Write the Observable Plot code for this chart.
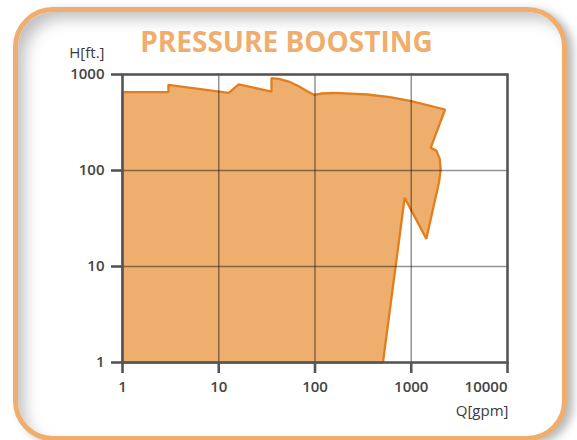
<!DOCTYPE html>
<html>
<head>
<meta charset="utf-8">
<script src="https://cdn.jsdelivr.net/npm/d3@7"></script>
<script src="https://cdn.jsdelivr.net/npm/@observablehq/plot@0.6"></script>
<style>
  html, body { margin: 0; padding: 0; background: #fff; }
  #wrap { position: relative; width: 577px; height: 440px; overflow: hidden; background: #fff; }
  #box {
    position: absolute; left: 13px; top: 7px; width: 554px; height: 434px;
    box-sizing: border-box; border: 5.5px solid #EFAE6D; border-radius: 40px;
    box-shadow: inset 10px 10px 16px -4px rgba(0,0,0,0.26), 6px 3px 8px rgba(0,0,0,0.28);
    background: #fff;
  }
  #chart { position: absolute; left: 0; top: 0; }
</style>
</head>
<body>
<div id="wrap"><div id="box"></div><div id="chart"></div></div>
<script>
// Operating range envelope (Q in gpm, H in ft), traced clockwise
const flowQ = [1, 1, 3, 3, 12.7, 16.1, 35.3, 35.3, 42, 53.4, 67.8, 83, 97.2, 119, 157, 349, 600, 1000, 2243, 1592, 1824, 1975, 2023, 1941, 1683, 1436, 854, 508];
const headH = [1, 654, 654, 781, 645, 787, 665, 915, 902, 845, 755, 670, 614, 634, 645, 619, 580, 527, 432, 172, 161, 132, 102, 75, 39.8, 19.4, 52, 1];
const xTicks = [1, 10, 100, 1000, 10000];
const yTicks = [1, 10, 100, 1000];
const titleText = "PRESSURE BOOSTING";
const yLabel = "H[ft.]";
const xLabel = "Q[gpm]";

const shape = flowQ.map((q, i) => ({q, h: headH[i]}));

const chart = Plot.plot({
  width: 577,
  height: 440,
  marginLeft: 122,
  marginRight: 70,
  marginTop: 74,
  marginBottom: 78,
  style: {background: "transparent", fontFamily: "'Open Sans', sans-serif"},
  x: {type: "log", domain: [1, 10000]},
  y: {type: "log", domain: [1, 1000]},
  marks: [
    Plot.line(shape, {x: "q", y: "h", curve: "linear-closed", fill: "#EDAE6E", stroke: "#E27E1D", strokeWidth: 2.3, strokeLinejoin: "miter"}),
    Plot.gridX({ticks: [10, 100, 1000], stroke: "#000", strokeOpacity: 0.42, strokeWidth: 1.5}),
    Plot.gridY({ticks: [10, 100], stroke: "#000", strokeOpacity: 0.42, strokeWidth: 1.5}),
    Plot.frame({stroke: "#555", strokeWidth: 2.6}),
    Plot.axisY({ticks: yTicks, tickFormat: d => String(d), tickSize: 11, tickPadding: 7, stroke: "#555", strokeWidth: 2.6, fill: "#444", fontSize: 15, fontWeight: 600, label: null}),
    Plot.axisX({ticks: xTicks, tickFormat: d => d === 10000 ? "" : String(d), tickSize: 11, tickPadding: 8, stroke: "#555", strokeWidth: 2.6, fill: "#444", fontSize: 15, fontWeight: 600, label: null}),
    Plot.text([10000], {x: d => d, text: d => String(d), frameAnchor: "bottom", textAnchor: "end", lineAnchor: "top", dy: 19, fill: "#444", fontSize: 15, fontWeight: 600}),
    Plot.text([yLabel], {frameAnchor: "top-left", textAnchor: "end", lineAnchor: "middle", dx: -18, dy: -21, fill: "#3a3a3a", fontSize: 15}),
    Plot.text([xLabel], {frameAnchor: "bottom-right", textAnchor: "end", lineAnchor: "middle", dx: 1, dy: 49, fill: "#3a3a3a", fontSize: 15}),
    Plot.text([titleText], {frameAnchor: "top", lineAnchor: "middle", dx: -28.5, dy: -31.5, fill: "#EFAE6D", fontSize: 28, fontWeight: 700})
  ]
});
document.getElementById("chart").appendChild(chart);
</script>
</body>
</html>
